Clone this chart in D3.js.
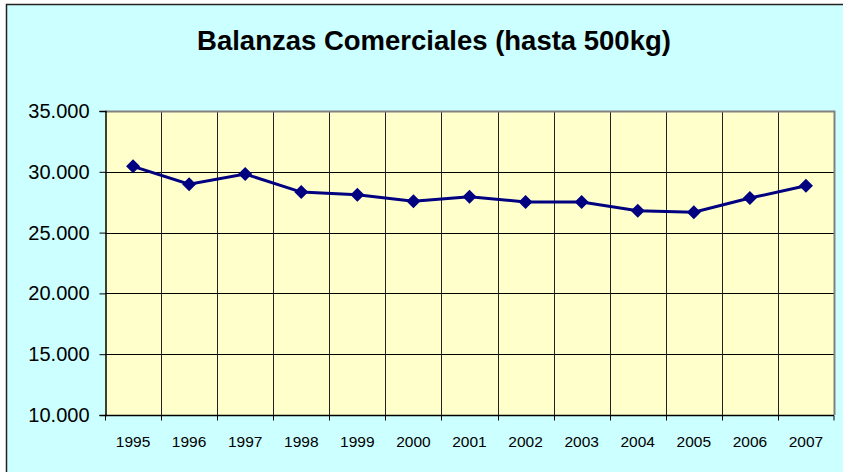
<!DOCTYPE html>
<html>
<head>
<meta charset="utf-8">
<script src="https://cdn.jsdelivr.net/npm/d3@7"></script>
<style>
  body { margin: 0; background: #fff; }
  svg text { font-family: "Liberation Sans", Arial, sans-serif; }
</style>
</head>
<body>
<div id="chart"></div>
<script>
var years = ["1995","1996","1997","1998","1999","2000","2001","2002","2003","2004","2005","2006","2007"];
var values = [30450, 28980, 29820, 28330, 28120, 27580, 27950, 27520, 27520, 26790, 26680, 27840, 28850];
var yTicks = [10000, 15000, 20000, 25000, 30000, 35000];
var title = "Balanzas Comerciales (hasta 500kg)";

var width = 843, height = 472;
var margins = { top: 111, bottom: 57, left: 105, right: 9 };

var svg = d3.select("#chart").append("svg")
    .attr("width", width).attr("height", height);

// outer chart area
svg.append("rect")
    .attr("x", 6.5).attr("y", 4.5)
    .attr("width", width + 10).attr("height", height + 10)
    .attr("fill", "#CCFFFF").attr("stroke", "#222").attr("stroke-width", 1.5);

svg.append("text")
    .attr("x", 434).attr("y", 50)
    .attr("text-anchor", "middle")
    .attr("font-size", "27.5px").attr("font-weight", "bold")
    .text(title);

var plotW = width - margins.left - margins.right;
var plotH = height - margins.top - margins.bottom;

var x = d3.scaleBand().domain(years).range([margins.left, margins.left + plotW]);
var y = d3.scaleLinear().domain([10000, 35000]).range([margins.top + plotH, margins.top]);

// plot area
svg.append("rect")
    .attr("x", margins.left).attr("y", margins.top)
    .attr("width", plotW).attr("height", plotH)
    .attr("fill", "#FFFFCC");

// horizontal grid
svg.append("g").selectAll("line").data(yTicks.slice(1)).join("line")
    .attr("x1", margins.left).attr("x2", margins.left + plotW)
    .attr("y1", d => Math.round(y(d)) + 0.5).attr("y2", d => Math.round(y(d)) + 0.5)
    .attr("stroke", "#000").attr("stroke-width", 1);

// vertical grid at category boundaries
svg.append("g").selectAll("line").data(years.slice(1)).join("line")
    .attr("x1", d => Math.round(x(d)) + 0.5).attr("x2", d => Math.round(x(d)) + 0.5)
    .attr("y1", margins.top).attr("y2", margins.top + plotH)
    .attr("stroke", "#222").attr("stroke-width", 1);

// plot border (top / right gray)
svg.append("path")
    .attr("d", "M" + margins.left + "," + (margins.top + 0.5) + "H" + (margins.left + plotW + 0.5) + "V" + (margins.top + plotH))
    .attr("fill", "none").attr("stroke", "#808080").attr("stroke-width", 2);

// y axis
var yAxis = svg.append("g")
    .attr("transform", "translate(" + (margins.left + 0.5) + ",0)")
    .call(d3.axisLeft(y).tickValues(yTicks).tickSize(6).tickPadding(10)
        .tickFormat(d => d3.format(",")(d).replace(/,/g, ".")));
yAxis.select(".domain").attr("stroke", "#000").attr("stroke-width", 1.5);
yAxis.selectAll("text").attr("font-size", "20px").attr("fill", "#000")
    .attr("font-family", "Liberation Sans, Arial, sans-serif");

// x axis: ticks at category boundaries
var xAxis = svg.append("g")
    .attr("transform", "translate(0," + (margins.top + plotH + 0.5) + ")");
xAxis.append("line")
    .attr("x1", margins.left).attr("x2", margins.left + plotW)
    .attr("stroke", "#000").attr("stroke-width", 1.5);
xAxis.selectAll(".tk").data(years.concat(["end"])).join("line")
    .attr("class", "tk")
    .attr("x1", d => d === "end" ? margins.left + plotW : Math.round(x(d)) + 0.5)
    .attr("x2", d => d === "end" ? margins.left + plotW : Math.round(x(d)) + 0.5)
    .attr("y1", 0).attr("y2", 5)
    .attr("stroke", "#000");
xAxis.selectAll("text").data(years).join("text")
    .attr("x", d => x(d) + x.bandwidth() / 2)
    .attr("y", 31)
    .attr("text-anchor", "middle")
    .attr("font-size", "15.5px")
    .text(d => d);

// series line
var line = d3.line()
    .x((d, i) => x(years[i]) + x.bandwidth() / 2)
    .y(d => y(d));

svg.append("path")
    .datum(values)
    .attr("d", line)
    .attr("fill", "none")
    .attr("stroke", "#000080")
    .attr("stroke-width", 3);

svg.append("g").selectAll("path").data(values).join("path")
    .attr("transform", (d, i) => "translate(" + (x(years[i]) + x.bandwidth() / 2) + "," + y(d) + ")")
    .attr("d", "M0,-7L7,0L0,7L-7,0Z")
    .attr("fill", "#000080");
</script>
</body>
</html>
